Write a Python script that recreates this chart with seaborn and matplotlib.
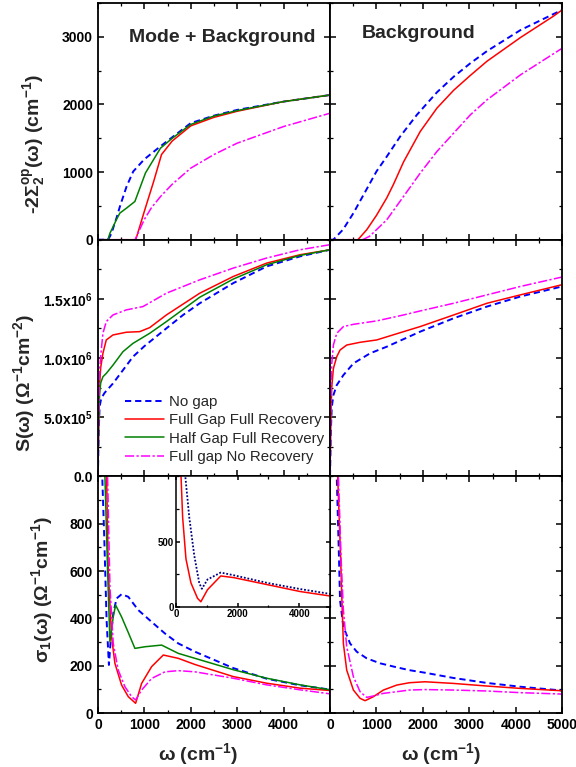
import numpy as np
import matplotlib
matplotlib.use("Agg")
import matplotlib.pyplot as plt
import seaborn as sns
from matplotlib.ticker import MultipleLocator, FixedLocator, FixedFormatter, NullFormatter
from matplotlib.lines import Line2D

# ---------------- data ----------------
# frequency grids (cm^-1) and values for each model

# -2 Sigma_2^op(w), mode + background
s2_mb_nogap_w = [0, 215, 260, 300, 350, 400, 473, 617, 761, 1000, 1340, 2000, 2500, 3000, 4000, 5000]
s2_mb_nogap_v = [0, 0, 50, 110, 220, 320, 490, 787, 1010, 1190, 1378, 1725, 1835, 1920, 2043, 2140]
s2_mb_fullfull_w = [0, 815, 1000, 1200, 1370, 1600, 2000, 2500, 3000, 4000, 5000]
s2_mb_fullfull_v = [0, 0, 420, 860, 1260, 1460, 1684, 1810, 1900, 2043, 2140]
s2_mb_halffull_w = [0, 215, 260, 330, 400, 473, 617, 796, 1024, 1348, 1600, 2000, 2500, 3000, 4000, 5000]
s2_mb_halffull_v = [0, 0, 98, 196, 300, 394, 468, 565, 987, 1354, 1500, 1705, 1830, 1910, 2043, 2140]
s2_mb_fullno_w = [0, 800, 1000, 1150, 1350, 1600, 2000, 2500, 3000, 4000, 5000]
s2_mb_fullno_v = [0, 0, 300, 470, 640, 820, 1059, 1260, 1428, 1674, 1871]

# -2 Sigma_2^op(w), background only
s2_bg_nogap_w = [0, 70, 280, 504, 1000, 1223, 1511, 1870, 2302, 2662, 3022, 3381, 4101, 4820, 5000]
s2_bg_nogap_v = [0, 0, 150, 394, 1010, 1231, 1527, 1847, 2180, 2410, 2610, 2790, 3100, 3340, 3399]
s2_bg_fullfull_w = [0, 600, 791, 1000, 1223, 1367, 1583, 1942, 2302, 2662, 3022, 3381, 4101, 4820, 5000]
s2_bg_fullfull_v = [0, 0, 148, 360, 620, 820, 1150, 1600, 1946, 2210, 2430, 2640, 2990, 3310, 3399]
s2_bg_fullno_w = [0, 700, 850, 1000, 1223, 1583, 1942, 2302, 2662, 3022, 3381, 4101, 5000]
s2_bg_fullno_v = [0, 0, 50, 148, 296, 640, 985, 1305, 1576, 1847, 2069, 2438, 2832]

# S(w) in units of 1e6 Ohm^-1 cm^-2, mode + background
s_mb_nogap_w = [0, 15, 36, 72, 144, 324, 540, 755, 1000, 1475, 1835, 2194, 2914, 3633, 4353, 5000]
s_mb_nogap_v = [0, 0.35, 0.59, 0.66, 0.706, 0.785, 0.898, 1.011, 1.10, 1.251, 1.364, 1.463, 1.633, 1.774, 1.859, 1.915]
s_mb_fullfull_w = [0, 15, 36, 60, 108, 180, 324, 612, 899, 1115, 1475, 2194, 2914, 3633, 4353, 5000]
s_mb_fullfull_v = [0, 0.45, 0.78, 0.92, 1.04, 1.153, 1.195, 1.218, 1.223, 1.257, 1.364, 1.548, 1.689, 1.802, 1.873, 1.915]
s_mb_halffull_w = [0, 15, 36, 60, 108, 180, 324, 540, 755, 1115, 1475, 2194, 2914, 3633, 4353, 5000]
s_mb_halffull_v = [0, 0.45, 0.70, 0.79, 0.842, 0.87, 0.94, 1.054, 1.124, 1.209, 1.308, 1.514, 1.667, 1.788, 1.867, 1.915]
s_mb_fullno_w = [0, 15, 36, 72, 108, 180, 324, 612, 971, 1475, 2194, 2914, 3633, 4353, 5000]
s_mb_fullno_v = [0, 0.5, 0.9, 1.068, 1.209, 1.308, 1.364, 1.407, 1.435, 1.548, 1.661, 1.760, 1.845, 1.915, 1.958]

# S(w), background only
s_bg_nogap_w = [0, 15, 36, 72, 144, 288, 504, 863, 1223, 1942, 2662, 3381, 4101, 5000]
s_bg_nogap_v = [0, 0.35, 0.58, 0.686, 0.771, 0.856, 0.955, 1.04, 1.096, 1.223, 1.336, 1.435, 1.52, 1.605]
s_bg_fullfull_w = [0, 15, 36, 72, 144, 216, 360, 647, 1007, 1583, 1942, 2662, 3381, 4101, 5000]
s_bg_fullfull_v = [0, 0.45, 0.75, 0.912, 1.011, 1.068, 1.110, 1.133, 1.153, 1.223, 1.266, 1.364, 1.463, 1.534, 1.62]
s_bg_fullno_w = [0, 15, 36, 72, 144, 288, 504, 1007, 1583, 1942, 2662, 3381, 4101, 5000]
s_bg_fullno_v = [0, 0.55, 0.95, 1.110, 1.209, 1.266, 1.285, 1.314, 1.364, 1.398, 1.463, 1.534, 1.605, 1.685]

# sigma_1(w), mode + background
c_mb_nogap_w = [80, 93, 136, 187, 237, 280, 330, 402, 510, 654, 869, 1157, 1444, 1731, 2090, 2914, 3633, 4353, 5000]
c_mb_nogap_v = [1200, 1000, 744, 392, 203, 320, 421, 484, 502, 491, 435, 385, 336, 294, 259, 190, 145, 117, 99]
c_mb_fullfull_w = [170, 187, 223, 294, 366, 510, 654, 812, 941, 1157, 1408, 1731, 2090, 2914, 3633, 4353, 5000]
c_mb_fullfull_v = [1200, 1000, 603, 322, 210, 118, 69, 41, 125, 196, 245, 231, 205, 154, 126, 105, 95]
c_mb_halffull_w = [130, 151, 208, 259, 330, 381, 510, 654, 797, 1013, 1372, 1731, 2090, 2914, 3633, 4353, 5000]
c_mb_halffull_v = [1200, 1000, 603, 301, 406, 456, 406, 340, 273, 280, 287, 252, 231, 183, 147, 119, 98]
c_mb_fullno_w = [190, 208, 259, 330, 438, 582, 726, 812, 941, 1157, 1444, 1731, 2090, 2914, 3633, 4353, 5000]
c_mb_fullno_v = [1200, 1000, 533, 294, 181, 111, 69, 55, 97, 146, 174, 179, 174, 147, 119, 98, 81]

# sigma_1(w), background only
c_bg_nogap_w = [130, 144, 194, 215, 287, 431, 575, 790, 1078, 1437, 1710, 2050, 2660, 3380, 4100, 5000]
c_bg_nogap_v = [1200, 1000, 645, 477, 364, 294, 259, 231, 210, 193, 181, 170, 148, 127, 111, 95]
c_bg_fullfull_w = [150, 165, 230, 251, 287, 359, 503, 647, 754, 934, 1149, 1437, 1710, 2047, 2658, 3376, 4095, 5000]
c_bg_fullfull_v = [1200, 1000, 645, 505, 294, 181, 97, 62, 52, 69, 97, 118, 128, 132, 125, 114, 104, 94]
c_bg_fullno_w = [165, 180, 240, 287, 359, 503, 647, 790, 934, 1149, 1437, 1710, 2047, 2658, 3376, 4095, 5000]
c_bg_fullno_v = [1200, 1000, 645, 435, 280, 153, 90, 66, 72, 83, 90, 97, 99, 97, 93, 86, 80]

# inset: sigma_1(w)
ins_red_w = [150, 162, 215, 322, 484, 699, 806, 1022, 1452, 1882, 2957, 4032, 5000]
ins_red_v = [1100, 1000, 684, 368, 184, 66, 40, 132, 237, 224, 171, 118, 84]
ins_blue_w = [280, 300, 430, 591, 753, 839, 1022, 1452, 1882, 2957, 4032, 5000]
ins_blue_v = [1100, 1000, 684, 395, 184, 139, 210, 263, 242, 184, 137, 100]

legend_labels = ["No gap", "Full Gap Full Recovery", "Half Gap Full Recovery", "Full gap No Recovery"]
panel_titles = ["Mode + Background", "Background"]

# ---------------- style ----------------
sns.set_style("ticks")
plt.rcParams.update({
    "font.family": ["Liberation Sans", "DejaVu Sans"],
    "font.weight": "bold",
    "mathtext.fontset": "custom",
    "mathtext.rm": "Liberation Sans:bold",
    "mathtext.it": "Liberation Sans:bold",
    "mathtext.bf": "Liberation Sans:bold",
    "mathtext.default": "rm",
    "axes.linewidth": 1.3,
    "axes.edgecolor": "black",
    "xtick.direction": "in",
    "ytick.direction": "in",
    "xtick.top": True,
    "ytick.right": True,
    "xtick.major.size": 4.5,
    "ytick.major.size": 4.5,
    "xtick.minor.size": 2.5,
    "ytick.minor.size": 2.5,
    "xtick.major.width": 1.1,
    "ytick.major.width": 1.1,
    "xtick.minor.width": 0.9,
    "ytick.minor.width": 0.9,
    "xtick.color": "black",
    "ytick.color": "black",
    "xtick.labelsize": 10,
    "ytick.labelsize": 10,
})

STY = {
    "nogap": dict(color="#0000ff", linestyle=(0, (3.2, 2.0)), linewidth=1.4),
    "fullfull": dict(color="#ff0000", linestyle="-", linewidth=1.1),
    "halffull": dict(color="#008000", linestyle="-", linewidth=1.1),
    "fullno": dict(color="#ff00ff", linestyle=(0, (6, 1.5, 1.5, 1.5)), linewidth=1.1),
}


def draw(ax, w, v, key, scale=1.0):
    sns.lineplot(x=np.asarray(w, float), y=np.asarray(v, float) * scale, ax=ax,
                 estimator=None, sort=True, **STY[key])


fig, axes = plt.subplots(3, 2, figsize=(5.76, 7.67), dpi=100,
                         gridspec_kw=dict(hspace=0, wspace=0))
fig.subplots_adjust(left=0.170, right=0.976, bottom=0.0704, top=0.996)

# row 0: -2 Sigma_2
draw(axes[0, 0], s2_mb_nogap_w, s2_mb_nogap_v, "nogap")
draw(axes[0, 0], s2_mb_fullfull_w, s2_mb_fullfull_v, "fullfull")
draw(axes[0, 0], s2_mb_halffull_w, s2_mb_halffull_v, "halffull")
draw(axes[0, 0], s2_mb_fullno_w, s2_mb_fullno_v, "fullno")
draw(axes[0, 1], s2_bg_nogap_w, s2_bg_nogap_v, "nogap")
draw(axes[0, 1], s2_bg_fullfull_w, s2_bg_fullfull_v, "fullfull")
draw(axes[0, 1], s2_bg_fullno_w, s2_bg_fullno_v, "fullno")

# row 1: S(w)
draw(axes[1, 0], s_mb_nogap_w, s_mb_nogap_v, "nogap", 1e6)
draw(axes[1, 0], s_mb_fullfull_w, s_mb_fullfull_v, "fullfull", 1e6)
draw(axes[1, 0], s_mb_halffull_w, s_mb_halffull_v, "halffull", 1e6)
draw(axes[1, 0], s_mb_fullno_w, s_mb_fullno_v, "fullno", 1e6)
draw(axes[1, 1], s_bg_nogap_w, s_bg_nogap_v, "nogap", 1e6)
draw(axes[1, 1], s_bg_fullfull_w, s_bg_fullfull_v, "fullfull", 1e6)
draw(axes[1, 1], s_bg_fullno_w, s_bg_fullno_v, "fullno", 1e6)

# row 2: sigma_1(w)
draw(axes[2, 0], c_mb_nogap_w, c_mb_nogap_v, "nogap")
draw(axes[2, 0], c_mb_fullfull_w, c_mb_fullfull_v, "fullfull")
draw(axes[2, 0], c_mb_halffull_w, c_mb_halffull_v, "halffull")
draw(axes[2, 0], c_mb_fullno_w, c_mb_fullno_v, "fullno")
draw(axes[2, 1], c_bg_nogap_w, c_bg_nogap_v, "nogap")
draw(axes[2, 1], c_bg_fullfull_w, c_bg_fullfull_v, "fullfull")
draw(axes[2, 1], c_bg_fullno_w, c_bg_fullno_v, "fullno")

ylims = [(0, 3500), (0, 2.0e6), (0, 1000)]
ymajor = [[0, 1000, 2000, 3000], [0, 5e5, 1e6, 1.5e6], [0, 200, 400, 600, 800]]
ylabels_tick = [["0", "1000", "2000", "3000"],
                ["0.0", "5.0x10$^{5}$", "1.0x10$^{6}$", "1.5x10$^{6}$"],
                ["0", "200", "400", "600", "800"]]
yminor = [500, 2.5e5, 100]

for r in range(3):
    for c in range(2):
        ax = axes[r, c]
        ax.set_xlim(0, 5000)
        ax.set_ylim(*ylims[r])
        ax.xaxis.set_major_locator(MultipleLocator(1000))
        ax.xaxis.set_minor_locator(MultipleLocator(500))
        ax.yaxis.set_major_locator(FixedLocator(ymajor[r]))
        ax.yaxis.set_minor_locator(MultipleLocator(yminor[r]))
        ax.set_xlabel("")
        ax.set_ylabel("")
        if c == 0:
            ax.yaxis.set_major_formatter(FixedFormatter(ylabels_tick[r]))
        else:
            ax.yaxis.set_major_formatter(NullFormatter())
        if r < 2:
            ax.xaxis.set_major_formatter(NullFormatter())
        for s in ax.spines.values():
            s.set_linewidth(1.3)

axes[2, 0].xaxis.set_major_locator(FixedLocator([0, 1000, 2000, 3000, 4000, 5000]))
axes[2, 0].xaxis.set_major_formatter(FixedFormatter(["0", "1000", "2000", "3000", "4000", ""]))
axes[2, 1].xaxis.set_major_locator(FixedLocator([0, 1000, 2000, 3000, 4000, 5000]))
axes[2, 1].xaxis.set_major_formatter(FixedFormatter(["0", "1000", "2000", "3000", "4000", "5000"]))

# axis titles
lab_kw = dict(fontsize=14, fontweight="bold")
axes[0, 0].set_ylabel(r"-2$\Sigma^{op}_{2}$(ω) (cm$^{-1}$)", **lab_kw)
axes[1, 0].set_ylabel(r"S(ω) (Ω$^{-1}$cm$^{-2}$)", **lab_kw)
axes[2, 0].set_ylabel(r"σ$_{1}$(ω) (Ω$^{-1}$cm$^{-1}$)", **lab_kw)
axes[0, 0].yaxis.set_label_coords(-0.215, 0.405)
axes[1, 0].yaxis.set_label_coords(-0.262, 0.396)
axes[2, 0].yaxis.set_label_coords(-0.185, 0.52)
axes[2, 0].set_xlabel(r"ω (cm$^{-1}$)", **lab_kw)
axes[2, 1].set_xlabel(r"ω (cm$^{-1}$)", **lab_kw)
axes[2, 0].xaxis.set_label_coords(0.43, -0.12)
axes[2, 1].xaxis.set_label_coords(0.478, -0.12)

axes[0, 0].text(0.535, 0.855, panel_titles[0], transform=axes[0, 0].transAxes,
                ha="center", va="center", fontsize=14, fontweight="bold")
axes[0, 1].text(0.38, 0.87, panel_titles[1], transform=axes[0, 1].transAxes,
                ha="center", va="center", fontsize=14, fontweight="bold")

# legend
handles = [Line2D([], [], **STY[k]) for k in ["nogap", "fullfull", "halffull", "fullno"]]
axes[1, 0].legend(handles, legend_labels, loc="lower left", bbox_to_anchor=(0.118, 0.053),
                  frameon=False, prop=dict(size=10.8, weight="normal"),
                  handlelength=2.55, handletextpad=0.35, labelspacing=0.28, borderpad=0.0,
                  borderaxespad=0.0)

# inset
ins = fig.add_axes([0.3056, 0.2086, 0.2674, 0.1708])
sns.lineplot(x=np.asarray(ins_blue_w, float), y=np.asarray(ins_blue_v, float), ax=ins,
             estimator=None, color="#000080", linestyle=(0, (1, 1)), linewidth=1.3)
sns.lineplot(x=np.asarray(ins_red_w, float), y=np.asarray(ins_red_v, float), ax=ins,
             estimator=None, color="#ff0000", linestyle="-", linewidth=1.1)
ins.set_xlim(0, 5000)
ins.set_ylim(0, 1000)
ins.xaxis.set_major_locator(FixedLocator([0, 2000, 4000]))
ins.xaxis.set_minor_locator(MultipleLocator(1000))
ins.yaxis.set_major_locator(FixedLocator([0, 500]))
ins.yaxis.set_minor_locator(MultipleLocator(250))
ins.tick_params(labelsize=7, length=3, pad=1.5)
ins.tick_params(which="minor", length=1.8)
ins.set_xlabel("")
ins.set_ylabel("")
for s in ins.spines.values():
    s.set_linewidth(1.1)

fig.savefig("out.png", dpi=100)
